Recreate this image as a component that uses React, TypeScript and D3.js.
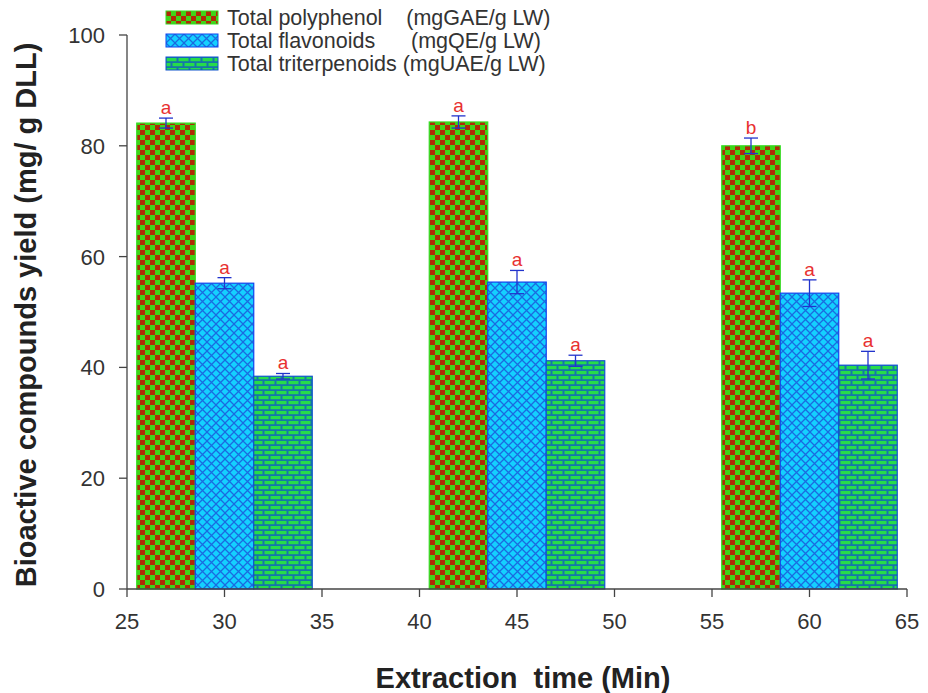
import React from "react";
import * as d3 from "d3";

const groups = [30, 45, 60];
const seriesNames = [
  "Total polyphenol    (mgGAE/g LW)",
  "Total flavonoids      (mgQE/g LW)",
  "Total triterpenoids (mgUAE/g LW)",
];
const polyphenol = [84.1, 84.3, 80.0];
const polyphenolErr = [0.9, 1.1, 1.4];
const flavonoids = [55.2, 55.4, 53.4];
const flavonoidsErr = [1.0, 2.1, 2.4];
const triterpenoids = [38.4, 41.2, 40.4];
const triterpenoidsErr = [0.5, 1.0, 2.5];
const letters = [
  ["a", "a", "b"],
  ["a", "a", "a"],
  ["a", "a", "a"],
];
const xTicks = [25, 30, 35, 40, 45, 50, 55, 60, 65];
const yTicks = [0, 20, 40, 60, 80, 100];

const offsets = [-3, 0, 3];
const barW = 3;

export default function App() {
  const x = d3.scaleLinear().domain([25, 65]).range([127, 907]);
  const y = d3.scaleLinear().domain([0, 100]).range([589, 35]);
  const series = [
    { vals: polyphenol, err: polyphenolErr, fill: "url(#checker)", stroke: "#33dd22" },
    { vals: flavonoids, err: flavonoidsErr, fill: "url(#cross)", stroke: "#1144ee" },
    { vals: triterpenoids, err: triterpenoidsErr, fill: "url(#brick)", stroke: "#1155cc" },
  ];
  const font = "Arial, 'Liberation Sans', sans-serif";

  return (
    <svg width={928} height={693} style={{ display: "block", position: "absolute", left: 0, top: 0, background: "#fff" }} fontFamily={font}>
      <defs>
        <pattern id="checker" width={10} height={10} patternUnits="userSpaceOnUse">
          <rect width={10} height={10} fill="#3fd417" />
          <rect width={5} height={5} fill="#b02a06" />
          <rect x={5} y={5} width={5} height={5} fill="#b02a06" />
        </pattern>
        <pattern id="cross" width={9} height={9} patternUnits="userSpaceOnUse">
          <rect width={9} height={9} fill="#14d0ff" />
          <path d="M0,0 L9,9 M9,0 L0,9" stroke="#1a6be0" strokeWidth={1.3} />
        </pattern>
        <pattern id="brick" width={12} height={10} patternUnits="userSpaceOnUse">
          <rect width={12} height={10} fill="#1577a8" />
          <rect x={0.5} y={1} width={10} height={3.2} fill="#26dc4a" />
          <rect x={-5.5} y={6} width={10} height={3.2} fill="#26dc4a" />
          <rect x={6.5} y={6} width={10} height={3.2} fill="#26dc4a" />
        </pattern>
      </defs>

      {series.map((s, si) =>
        groups.map((g, gi) => {
          const x0 = x(g + offsets[si] - barW / 2);
          const x1 = x(g + offsets[si] + barW / 2);
          const cx = (x0 + x1) / 2;
          const top = y(s.vals[gi]);
          const eTop = y(s.vals[gi] + s.err[gi]);
          const eBot = y(s.vals[gi] - s.err[gi]);
          return (
            <g key={`${si}-${gi}`}>
              <rect x={x0} y={top} width={x1 - x0} height={y(0) - top} fill={s.fill} stroke={s.stroke} strokeWidth={1.2} />
              <line x1={cx} x2={cx} y1={eTop} y2={eBot} stroke="#2233cc" strokeWidth={1.3} />
              <line x1={cx - 7} x2={cx + 7} y1={eTop} y2={eTop} stroke="#2233cc" strokeWidth={1.3} />
              <line x1={cx - 7} x2={cx + 7} y1={eBot} y2={eBot} stroke="#2233cc" strokeWidth={1.3} />
              <text x={cx} y={eTop - 4} textAnchor="middle" fontSize={19} fill="#e83030">
                {letters[si][gi]}
              </text>
            </g>
          );
        })
      )}

      {/* axes */}
      <line x1={x(25)} x2={x(25)} y1={y(100)} y2={y(0)} stroke="#444" strokeWidth={1.3} />
      <line x1={x(25)} x2={x(65)} y1={y(0)} y2={y(0)} stroke="#444" strokeWidth={1.3} />
      {yTicks.map((t) => (
        <g key={t}>
          <line x1={x(25) - 8} x2={x(25)} y1={y(t)} y2={y(t)} stroke="#444" strokeWidth={1.3} />
          <text x={105} y={y(t) + 8} textAnchor="end" fontSize={22} fill="#333">
            {t}
          </text>
        </g>
      ))}
      {xTicks.map((t) => (
        <g key={t}>
          <line x1={x(t)} x2={x(t)} y1={y(0)} y2={y(0) + 8} stroke="#444" strokeWidth={1.3} />
          <text x={x(t)} y={y(0) + 40} textAnchor="middle" fontSize={22} fill="#333">
            {t}
          </text>
        </g>
      ))}

      <text x={523} y={688} textAnchor="middle" fontSize={29} fontWeight="bold" fill="#222" style={{ whiteSpace: "pre" }}>
        {"Extraction  time (Min)"}
      </text>
      <text transform="translate(36,315) rotate(-90)" textAnchor="middle" fontSize={29} fontWeight="bold" fill="#222">
        Bioactive compounds yield (mg/ g DLL)
      </text>

      {/* legend */}
      {seriesNames.map((n, i) => (
        <g key={n} transform={`translate(166,${11 + i * 23})`}>
          <rect width={52} height={13} fill={series[i].fill} stroke={series[i].stroke} strokeWidth={1} />
          <text x={61} y={14} fontSize={21.5} fill="#333" style={{ whiteSpace: "pre" }}>
            {n}
          </text>
        </g>
      ))}
    </svg>
  );
}
